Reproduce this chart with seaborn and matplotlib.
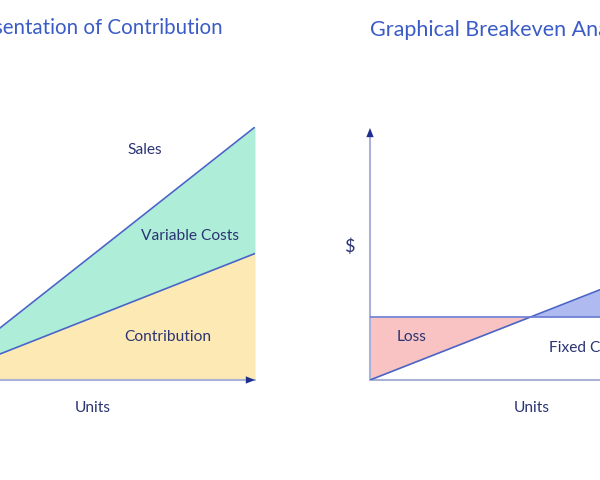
import matplotlib
matplotlib.use("Agg")
import matplotlib.pyplot as plt
import seaborn as sns
import numpy as np
import pandas as pd

# left chart: contribution
units = [0, 10]
sales = [0, 100]
variable_costs = [0, 50]

# right chart: breakeven
be_units = [0, 5, 10]
be_sales = [0, 25, 50]
fixed_costs = [25, 25, 25]

TITLE_C = "#3b5cc6"
TEXT_C = "#2a3472"
LINE_C = "#4a65c6"
AXIS_C = "#aab2d8"
ARROW_C = "#1f2f8e"

sns.set_theme(style="white")
plt.rcParams["font.family"] = ["Lato", "DejaVu Sans"]

fig = plt.figure(figsize=(6, 4.8), dpi=100)
W, H = 600, 480
axL = fig.add_axes([-66 / W, 100 / H, 321 / W, 253 / H])
axR = fig.add_axes([370 / W, 100 / H, 321 / W, 252 / H])

for ax in (axL, axR):
    ax.set_xlim(0, 10)
    ax.set_ylim(0, 100)
    ax.axis("off")

arrow = dict(arrowstyle="-|>,head_length=0.55,head_width=0.22", color=ARROW_C, lw=0,
             shrinkA=0, shrinkB=0)

# ---- left
dl = pd.DataFrame({"units": units, "sales": sales, "var": variable_costs})
axL.fill_between(dl["units"], 0, dl["var"], color="#fde9b4", lw=0, zorder=1)
axL.fill_between(dl["units"], dl["var"], dl["sales"], color="#aeedd8", lw=0, zorder=1)
sns.lineplot(data=dl, x="units", y="sales", ax=axL, color=LINE_C, lw=1.2, zorder=3)
sns.lineplot(data=dl, x="units", y="var", ax=axL, color=LINE_C, lw=1.2, zorder=3)
axL.axhline(0, color=AXIS_C, lw=1.5, zorder=2, clip_on=False)
axL.annotate("", xy=(10, 0), xytext=(9.6, 0), arrowprops=arrow, zorder=4,
             annotation_clip=False)
axL.axis("off")

kw = dict(color=TEXT_C, fontsize=11.2, ha="center", va="center")
axL.text(6.57, 91, "Sales", **kw)
axL.text(7.97, 57, "Variable Costs", **kw)
axL.text(7.29, 17, "Contribution", **kw)
axL.text(4.95, -11, "Units", clip_on=False, **kw)
axL.text(9.0, 139, "Graphical Representation of Contribution", color=TITLE_C,
         fontsize=14.8, ha="right", va="center", clip_on=False)

# ---- right
dr = pd.DataFrame({"units": be_units, "sales": be_sales, "fixed": fixed_costs})
s = np.array(be_sales, dtype=float)
f = np.array(fixed_costs, dtype=float)
axR.fill_between(dr["units"], s, f, where=s <= f, color="#f9c3c3", lw=0, zorder=1)
axR.fill_between(dr["units"], f, s, where=s >= f, color="#aebaf0", lw=0, zorder=1)
sns.lineplot(data=dr, x="units", y="sales", ax=axR, color=LINE_C, lw=1.2, zorder=3)
sns.lineplot(data=dr, x="units", y="fixed", ax=axR, color="#6b7cd2", lw=1.2, zorder=3)
axR.axhline(0, color=AXIS_C, lw=1.5, zorder=2, clip_on=False)
axR.axvline(0, ymax=0.97, color=AXIS_C, lw=1.5, zorder=2, clip_on=False)
axR.annotate("", xy=(0, 100), xytext=(0, 95), arrowprops=arrow, zorder=4,
             annotation_clip=False)
axR.axis("off")

axR.text(-0.65, 53, "$", clip_on=False, color=TEXT_C, fontsize=13, ha="center", va="center")
axR.text(1.28, 17, "Loss", **kw)
axR.text(5.58, 12.7, "Fixed Costs", color=TEXT_C, fontsize=11.2, ha="left", va="center")
axR.text(5.05, -11, "Units", clip_on=False, **kw)
axR.text(0, 139, "Graphical Breakeven Analysis", color=TITLE_C,
         fontsize=15.5, ha="left", va="center", clip_on=False)

fig.savefig("out.png", dpi=100)
